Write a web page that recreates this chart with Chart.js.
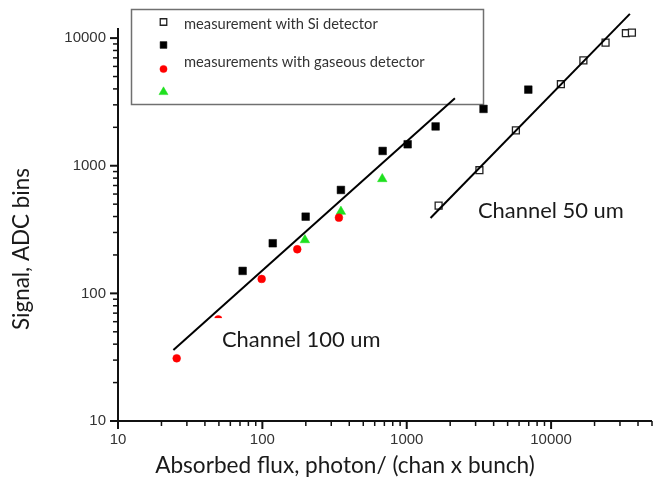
<!DOCTYPE html>
<html><head><meta charset="utf-8">
<script src="https://cdn.jsdelivr.net/npm/chart.js@4/dist/chart.umd.min.js"></script>
<style>html,body{margin:0;padding:0;background:#fff}canvas{display:block}</style>
</head><body>
<canvas id="c" width="660" height="488"></canvas>
<script>
// ---- data ----
const siFlux     = [1663, 3188, 5704, 11690, 16740, 23840, 32970, 36290];
const siSignal   = [487, 922, 1891, 4353, 6685, 9220, 10920, 11040];
const blackFlux  = [73, 118, 199.5, 350, 681, 1015, 1585, 3403, 6953];
const blackSignal= [150, 247, 399, 646, 1306, 1473, 2032, 2787, 3948];
const redFlux    = [25.5, 49.5, 98.9, 174.5, 339];
const redSignal  = [31.0, 62.5, 129.7, 221.6, 392];
const greenFlux  = [197, 350, 677];
const greenSignal= [262, 437, 788];
const fit100Flux   = [24.2, 2157];
const fit100Signal = [36.0, 3380];
const fit50Flux    = [1462, 35140];
const fit50Signal  = [390, 15490];
const xTickValues = [10, 100, 1000, 10000];
const xTickLabels = ['10', '100', '1000', '10000'];
const yTickValues = [10, 100, 1000, 10000];
const yTickLabels = ['10', '100', '1000', '10000'];
const xTitle = 'Absorbed flux, photon/ (chan x bunch)';
const yTitle = 'Signal, ADC bins';
const legendLabels = ['measurement with Si detector', '', 'measurements with gaseous detector', ''];
const noteTexts  = ['Channel 100 um', 'Channel 50 um'];
const noteFlux   = [52.5, 3112];
const noteSignal = [38.2, 390];

const pts = (xs, ys) => xs.map((x, i) => ({x, y: ys[i]}));

const datasets = [
  {label: legendLabels[0], data: pts(siFlux, siSignal), pointStyle: 'rect', pointRadius: 4.9,
   pointBackgroundColor: '#ffffff', pointBorderColor: '#222222', pointBorderWidth: 1.3, showLine: false, order: 2},
  {label: legendLabels[1], data: pts(blackFlux, blackSignal), pointStyle: 'rect', pointRadius: 5.4,
   pointBackgroundColor: '#000000', pointBorderColor: '#000000', pointBorderWidth: 0.5, showLine: false, order: 2},
  {label: legendLabels[2], data: pts(redFlux, redSignal), pointStyle: 'circle', pointRadius: 3.9,
   pointBackgroundColor: '#ff0000', pointBorderColor: '#ff0000', pointBorderWidth: 0.5, showLine: false, order: 2},
  {label: legendLabels[3], data: pts(greenFlux, greenSignal), pointStyle: 'triangle', pointRadius: 5.5,
   pointBackgroundColor: '#1fe01f', pointBorderColor: '#1fe01f', pointBorderWidth: 0.5, showLine: false, order: 2},
  {label: 'fit100', data: pts(fit100Flux, fit100Signal), showLine: true, pointRadius: 0,
   borderColor: '#000000', borderWidth: 2, clip: false, order: 0},
  {label: 'fit50', data: pts(fit50Flux, fit50Signal), showLine: true, pointRadius: 0,
   borderColor: '#000000', borderWidth: 2, clip: false, order: 0}
];

function fitSize(ctx, text, family, width) {
  ctx.font = '100px ' + family;
  return 100 * width / ctx.measureText(text).width;
}
function isTickVal(v) {
  const e = Math.floor(Math.log10(v) + 1e-9);
  const m = v / Math.pow(10, e);
  return Math.abs(m - Math.round(m)) < 1e-6 ? Math.round(m) : 0;
}
function marker(ctx, ds, x, y, r) {
  ctx.save();
  ctx.fillStyle = ds.pointBackgroundColor;
  ctx.strokeStyle = ds.pointBorderColor;
  ctx.lineWidth = ds.pointBorderWidth;
  Chart.helpers.drawPoint(ctx, {pointStyle: ds.pointStyle, radius: r, rotation: 0, borderWidth: ds.pointBorderWidth}, x, y);
  ctx.restore();
}

const deco = {
  id: 'deco',
  beforeDatasetsDraw(chart) {
    const ctx = chart.ctx;
    ctx.save();
    ctx.strokeStyle = '#707070';
    ctx.lineWidth = 1.5;
    ctx.strokeRect(131.5, 9.5, 352, 95);
    ctx.restore();
  },
  afterDatasetsDraw(chart) {
    const ctx = chart.ctx, xs = chart.scales.x, ys = chart.scales.y;
    ctx.save();
    const size = fitSize(ctx, noteTexts[1], 'Lato', 146);
    ctx.font = size + 'px Lato';
    ctx.textBaseline = 'alphabetic';
    ctx.textAlign = 'left';
    noteTexts.forEach((t, i) => {
      const x = xs.getPixelForValue(noteFlux[i]);
      const y = ys.getPixelForValue(noteSignal[i]);
      const w = ctx.measureText(t).width;
      ctx.fillStyle = '#ffffff';
      ctx.fillRect(x - 9, y - size * 1.35 + 1, w + 14, size * 1.35 + 8);
      ctx.fillStyle = '#1a1a1a';
      ctx.fillText(t, x, y);
    });
    ctx.restore();
  },
  afterDraw(chart) {
    const ctx = chart.ctx, xs = chart.scales.x, ys = chart.scales.y, a = chart.chartArea;
    ctx.save();
    // axis lines
    ctx.strokeStyle = '#111111';
    ctx.lineWidth = 2;
    ctx.beginPath();
    ctx.moveTo(a.left, a.top); ctx.lineTo(a.left, a.bottom + 8);
    ctx.moveTo(a.left - 8, a.bottom); ctx.lineTo(a.right, a.bottom);
    ctx.stroke();
    // tick marks
    for (const t of ys.ticks) {
      const m = isTickVal(t.value); if (!m) continue;
      const y = ys.getPixelForValue(t.value);
      ctx.lineWidth = m === 1 ? 2 : 1.5;
      ctx.beginPath(); ctx.moveTo(a.left - (m === 1 ? 8 : 5), y); ctx.lineTo(a.left, y); ctx.stroke();
    }
    for (const t of xs.ticks) {
      const m = isTickVal(t.value); if (!m) continue;
      const x = xs.getPixelForValue(t.value);
      ctx.lineWidth = m === 1 ? 2 : 1.5;
      ctx.beginPath(); ctx.moveTo(x, a.bottom); ctx.lineTo(x, a.bottom + (m === 1 ? 8 : 5)); ctx.stroke();
    }
    // tick labels
    ctx.fillStyle = '#333333';
    ctx.font = '15px "Liberation Sans"';
    ctx.textAlign = 'right';
    ctx.textBaseline = 'middle';
    yTickValues.forEach((v, i) => ctx.fillText(yTickLabels[i], a.left - 12, ys.getPixelForValue(v)));
    ctx.textAlign = 'center';
    ctx.textBaseline = 'alphabetic';
    xTickValues.forEach((v, i) => ctx.fillText(xTickLabels[i], xs.getPixelForValue(v), a.bottom + 23));
    // axis titles
    ctx.fillStyle = '#1a1a1a';
    ctx.textAlign = 'center';
    ctx.textBaseline = 'middle';
    let s = fitSize(ctx, xTitle, 'Lato', 380);
    ctx.font = s + 'px Lato';
    ctx.fillText(xTitle, 345, 466);
    s = fitSize(ctx, yTitle, 'Lato', 162);
    ctx.font = s + 'px Lato';
    ctx.save();
    ctx.translate(22, 249);
    ctx.rotate(-Math.PI / 2);
    ctx.fillText(yTitle, 0, 0);
    ctx.restore();
    // legend
    const rows = [22, 45, 69, 92];
    const radii = [4.6, 4.8, 3.6, 5.2];
    datasets.slice(0, 4).forEach((ds, i) => marker(ctx, ds, 163.5, rows[i], radii[i]));
    s = fitSize(ctx, legendLabels[0], 'Lato', 194);
    ctx.font = s + 'px Lato';
    ctx.textAlign = 'left';
    ctx.textBaseline = 'alphabetic';
    ctx.fillStyle = '#333333';
    ctx.fillText(legendLabels[0], 184, 28.5);
    ctx.fillText(legendLabels[2], 184, 66.5);
    ctx.restore();
  }
};

new Chart(document.getElementById('c'), {
  type: 'scatter',
  data: {datasets},
  options: {
    responsive: false,
    animation: false,
    layout: {padding: {top: 28, right: 8, bottom: 0, left: 0}},
    plugins: {legend: {display: false}, tooltip: {enabled: false}},
    scales: {
      x: {
        type: 'logarithmic', min: 10, max: 50000,
        grid: {display: false},
        border: {display: false},
        ticks: {display: false, autoSkip: false},
        afterFit: s => { s.height = 67; }
      },
      y: {
        type: 'logarithmic', min: 10, max: 12000,
        grid: {display: false},
        border: {display: false},
        ticks: {display: false, autoSkip: false},
        afterFit: s => { s.width = 118; }
      }
    }
  },
  plugins: [deco]
});
</script>
</body></html>
